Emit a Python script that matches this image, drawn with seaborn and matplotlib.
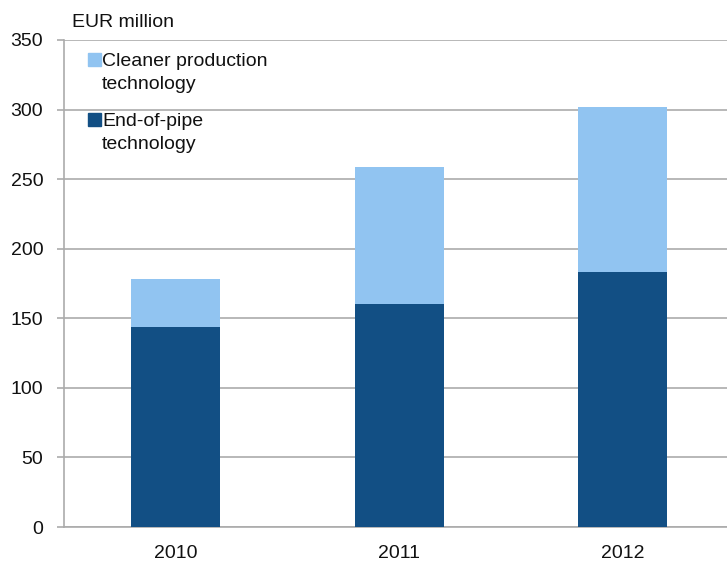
import numpy as np
import matplotlib
matplotlib.use('Agg')
import matplotlib.pyplot as plt
import matplotlib.patches as mpatches
import pandas as pd
import seaborn as sns

# ── Data ───────────────────────────────────────────────────────────────────
years       = ['2010', '2011', '2012']
end_of_pipe = [144, 160, 183]
cleaner     = [34, 99, 119]

LIGHT = '#91C4F1'
DARK  = '#124F84'
GRID  = '#ABABAB'
TEXT  = '#111111'
FS    = 14

sns.set_theme(style='white')
plt.rcParams['font.family'] = ['Liberation Sans', 'DejaVu Sans']

df = pd.DataFrame({'year': years,
                   'end': end_of_pipe,
                   'total': np.add(end_of_pipe, cleaner)})

W, H = 727, 567
fig = plt.figure(figsize=(W / 100, H / 100), dpi=100)
# axes runs past the right edge, the original chart is cut there
ax = fig.add_axes([64 / W, 1 - 527 / H, 670.5 / W, 487 / H])

sns.barplot(data=df, x='year', y='total', color=LIGHT, width=0.4,
            saturation=1, linewidth=0, ax=ax, zorder=3)
sns.barplot(data=df, x='year', y='end', color=DARK, width=0.4,
            saturation=1, linewidth=0, ax=ax, zorder=4)

ax.set_xlim(-0.5, 2.5)
ax.set_ylim(0, 350)
ax.set_yticks(range(0, 351, 50))
ax.yaxis.grid(True, color=GRID, lw=1.2, zorder=0)
ax.set_axisbelow(True)
ax.set_xlabel('')
ax.set_ylabel('')

for side in ['top', 'right']:
    ax.spines[side].set_visible(False)
for side in ['left', 'bottom']:
    ax.spines[side].set_color(GRID)
    ax.spines[side].set_linewidth(1.2)

ax.set_xticks([-0.5, 0.5, 1.5, 2.5], minor=True)
ax.tick_params(axis='x', which='major', length=0, pad=13, labelsize=FS,
               colors=TEXT)
ax.tick_params(axis='x', which='minor', length=6, width=1.2, color=GRID,
               direction='out')
ax.tick_params(axis='y', length=5, width=1.2, color=GRID, direction='out',
               pad=10, labelsize=FS, labelcolor=TEXT, left=True)

fig.text(72 / W, 1 - 27 / H, 'EUR million', fontsize=FS, va='baseline',
         ha='left', color=TEXT)

# legend: square next to the first line of each label
legend_items = [(['Cleaner production', 'technology'], LIGHT, 66),
                (['End-of-pipe', 'technology'], DARK, 126)]
for lines, col, base in legend_items:
    fig.patches.append(mpatches.Rectangle((88 / W, 1 - base / H),
                                          13 / W, 13 / H, color=col,
                                          transform=fig.transFigure))
    for i, line in enumerate(lines):
        fig.text(102 / W, 1 - (base + 23 * i) / H, line, fontsize=FS,
                 va='baseline', ha='left', color=TEXT)

fig.savefig('out.png', dpi=100)
